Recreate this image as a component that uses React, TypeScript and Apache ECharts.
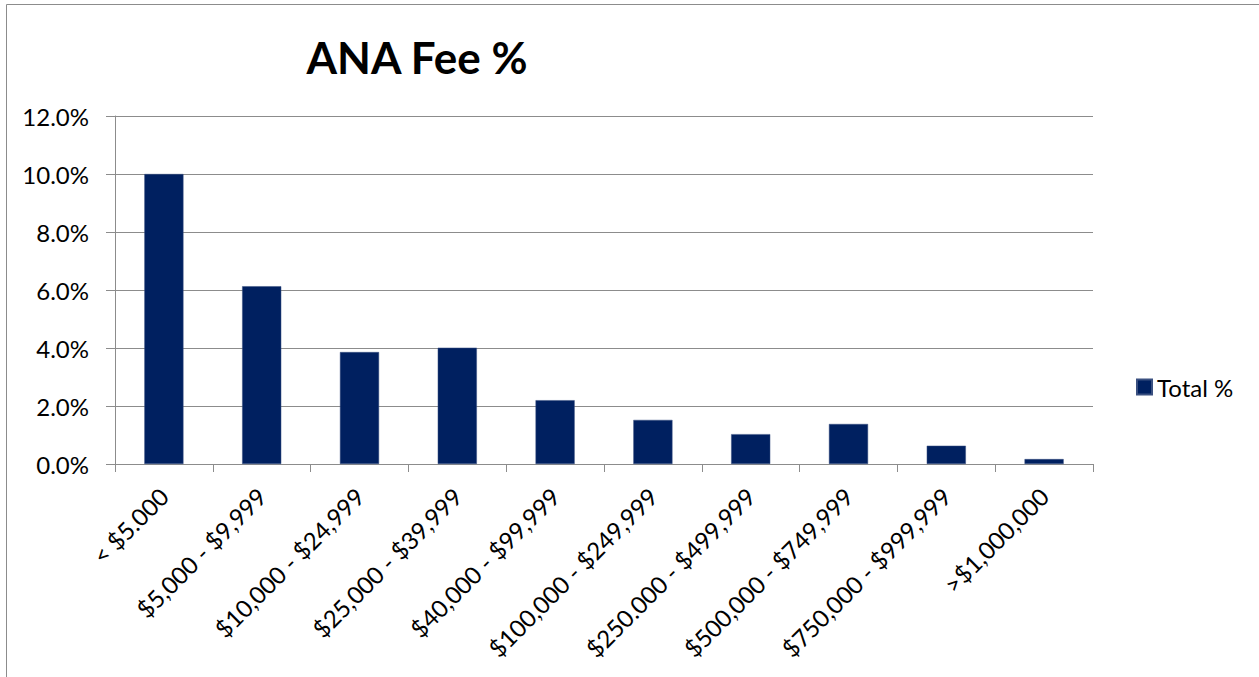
import React, { useEffect, useRef } from "react";
import * as echarts from "echarts";

const categories = [
  "< $5.000",
  "$5,000 - $9,999",
  "$10,000 - $24,999",
  "$25,000 - $39,999",
  "$40,000 - $99,999",
  "$100,000 - $249,999",
  "$250.000 - $499,999",
  "$500,000 - $749,999",
  "$750,000 - $999,999",
  ">$1,000,000",
];
const totalPct = [10.0, 6.13, 3.86, 4.01, 2.2, 1.52, 1.03, 1.38, 0.63, 0.17];
const seriesName = "Total %";
const titleText = "ANA Fee %";

const FONT = "Lato, 'Open Sans', sans-serif";

export default function App() {
  const ref = useRef<HTMLDivElement>(null);
  useEffect(() => {
    if (!ref.current) return;
    const chart = echarts.init(ref.current, undefined, { renderer: "svg" });
    chart.setOption({
      animation: false,
      backgroundColor: "#ffffff",
      textStyle: { fontFamily: FONT },
      title: {
        text: titleText,
        left: 412,
        top: 30,
        textAlign: "center",
        textStyle: { fontFamily: FONT, fontWeight: "bold", fontSize: 44, color: "#000" },
      },
      legend: {
        left: 1136,
        top: 375,
        padding: 0,
        icon: "rect",
        itemWidth: 15,
        itemHeight: 15,
        textStyle: { fontFamily: FONT, fontSize: 24, color: "#000" },
        data: [seriesName],
      },
      graphic: [
        {
          type: "rect",
          shape: { x: 6.5, y: 4.5, width: 1300, height: 700 },
          style: { fill: "none", stroke: "#8c8c8c", lineWidth: 1 },
          silent: true,
          z: -1,
        },
      ],
      grid: { left: 115, right: 166, top: 116, bottom: 213 },
      xAxis: {
        type: "category",
        data: categories,
        axisLine: { lineStyle: { color: "#8c8c8c", width: 1 } },
        axisTick: { show: true, length: 8, lineStyle: { color: "#8c8c8c" } },
        axisLabel: {
          rotate: 45,
          interval: 0,
          margin: 28,
          fontFamily: FONT,
          fontSize: 24,
          color: "#000",
        },
      },
      yAxis: {
        type: "value",
        min: 0,
        max: 12,
        interval: 2,
        axisLine: { show: true, lineStyle: { color: "#8c8c8c", width: 1 } },
        axisTick: { show: true, length: 9, lineStyle: { color: "#8c8c8c" } },
        splitLine: { show: true, lineStyle: { color: "#8c8c8c", width: 1 } },
        axisLabel: {
          margin: 26,
          fontFamily: FONT,
          fontSize: 24,
          color: "#000",
          formatter: (v: number) => v.toFixed(1) + "%",
        },
      },
      series: [
        {
          name: seriesName,
          type: "bar",
          data: totalPct,
          barWidth: "40%",
          itemStyle: { color: "#002060", borderColor: "#3a5080", borderWidth: 0.5 },
        },
      ],
    });
    return () => chart.dispose();
  }, []);
  return (
    <div
      ref={ref}
      style={{ position: "fixed", left: 0, top: 0, width: 1259, height: 677 }}
    />
  );
}
